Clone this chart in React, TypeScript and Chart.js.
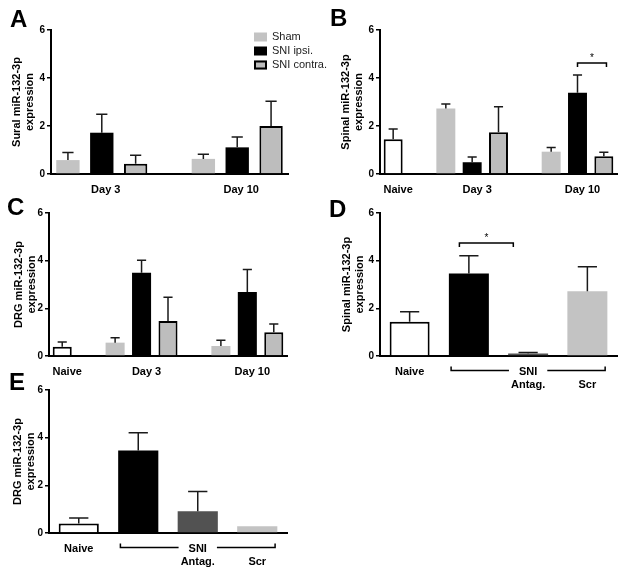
import React, { useEffect, useRef } from 'react';
import { Chart, registerables } from 'chart.js';

Chart.register(...registerables);

const FONT = '"Liberation Sans", Arial, Helvetica, sans-serif';

// ---------- colours ----------
const C_WHITE = '#ffffff';
const C_BLACK = '#000000';
const C_LIGHT = '#c3c3c3';
const C_CONTRA = '#bdbdbd';
const C_DARK = '#525252';

// ---------- Panel A : sural nerve ----------
const A_GROUPS = ['Day 3', 'Day 10'];
const A_SHAM = [0.58, 0.63];
const A_SHAM_SEM = [0.32, 0.19];
const A_IPSI = [1.72, 1.11];
const A_IPSI_SEM = [0.77, 0.43];
const A_CONTRA = [0.43, 2.0];
const A_CONTRA_SEM = [0.35, 1.03];

// ---------- Panel B : spinal cord time course ----------
const B_GROUPS = ['Day 3', 'Day 10'];
const B_NAIVE = 1.45;
const B_NAIVE_SEM = 0.43;
const B_SHAM = [2.73, 0.93];
const B_SHAM_SEM = [0.19, 0.17];
const B_IPSI = [0.49, 3.39];
const B_IPSI_SEM = [0.22, 0.74];
const B_CONTRA = [1.74, 0.74];
const B_CONTRA_SEM = [1.06, 0.17];

// ---------- Panel C : DRG time course ----------
const C_GROUPS = ['Day 3', 'Day 10'];
const C_NAIVE = 0.39;
const C_NAIVE_SEM = 0.2;
const C_SHAM = [0.56, 0.42];
const C_SHAM_SEM = [0.21, 0.24];
const C_IPSI = [3.49, 2.69];
const C_IPSI_SEM = [0.53, 0.94];
const C_CONTRA_V = [1.47, 1.0];
const C_CONTRA_SEM = [0.99, 0.34];

// ---------- Panels D / E : antagomir ----------
const DE_TICKS: (string | string[])[] = ['Naive', '', ['SNI', 'Antag.'], ['', 'Scr']];
const D_VALUES = [1.44, 3.46, 0.11, 2.72];
const D_SEM = [0.42, 0.75, 0.04, 1.02];
const E_VALUES = [0.4, 3.46, 0.91, 0.28];
const E_SEM = [0.23, 0.75, 0.83, 0.02];
const DE_BG = [C_WHITE, C_BLACK, C_DARK, C_LIGHT];
const DE_BORDER = [C_BLACK, C_BLACK, C_DARK, C_LIGHT];
const DE_BW = [2, 0, 0, 0];

type Series = {
  label: string;
  values: number[];
  sem: number[];
  bg: string;
  border: string;
  bw: number;
};

function seriesSet(sham: number[], shamSem: number[], ipsi: number[], ipsiSem: number[], contra: number[], contraSem: number[]): Series[] {
  return [
    { label: 'Sham', values: sham, sem: shamSem, bg: C_LIGHT, border: C_LIGHT, bw: 0 },
    { label: 'SNI ipsi.', values: ipsi, sem: ipsiSem, bg: C_BLACK, border: C_BLACK, bw: 0 },
    { label: 'SNI contra.', values: contra, sem: contraSem, bg: C_CONTRA, border: C_BLACK, bw: 2 },
  ];
}

function buildGrouped(naive: null | { v: number; e: number }, groups: string[], series: Series[]) {
  const labels: string[] = [];
  const slots: any[] = [];
  if (naive) {
    labels.push('Naive');
    slots.push({ naive: true });
    labels.push('');
    slots.push(null);
  }
  groups.forEach((g, gi) => {
    if (gi > 0) {
      labels.push('');
      slots.push(null);
    }
    series.forEach((_s, si) => {
      labels.push(si === Math.floor(series.length / 2) ? g : '');
      slots.push({ gi, si });
    });
  });
  const datasets: any[] = [];
  if (naive) {
    datasets.push({
      label: 'Naive',
      data: slots.map((s) => (s && s.naive ? naive.v : null)),
      sem: slots.map((s) => (s && s.naive ? naive.e : null)),
      backgroundColor: C_WHITE,
      borderColor: C_BLACK,
      borderWidth: 2,
      inLegend: false,
    });
  }
  series.forEach((s, si) => {
    datasets.push({
      label: s.label,
      data: slots.map((sl) => (sl && !sl.naive && sl.si === si ? s.values[sl.gi] : null)),
      sem: slots.map((sl) => (sl && !sl.naive && sl.si === si ? s.sem[sl.gi] : null)),
      backgroundColor: s.bg,
      borderColor: s.border,
      borderWidth: s.bw,
      inLegend: true,
    });
  });
  return { labels, datasets };
}

function buildSingle(values: number[], sem: number[]) {
  return {
    labels: DE_TICKS,
    datasets: [
      {
        label: 'miR-132-3p',
        data: values,
        sem,
        backgroundColor: DE_BG,
        borderColor: DE_BORDER,
        borderWidth: DE_BW,
      },
    ],
  };
}

type PanelCfg = {
  letter: string;
  letterX: number;
  letterY: number;
  left: number;
  top: number;
  w: number;
  h: number;
  yW: number;
  padR: number;
  padT: number;
  xH: number;
  titlePad: number;
  yTitle: string[];
  barPct: number;
  labelOffset: number;
  data: { labels: any[]; datasets: any[] };
  legend?: boolean;
  sig?: { from: number; to: number; value: number }[];
  sniBracket?: boolean;
};

const errorBarPlugin = {
  id: 'semBars',
  afterDatasetsDraw(chart: any) {
    const ctx = chart.ctx;
    const yScale = chart.scales.y;
    ctx.save();
    ctx.strokeStyle = '#1a1a1a';
    ctx.lineWidth = 1.5;
    chart.data.datasets.forEach((ds: any, di: number) => {
      const meta = chart.getDatasetMeta(di);
      meta.data.forEach((el: any, i: number) => {
        const v = ds.data[i];
        const e = ds.sem ? ds.sem[i] : null;
        if (v == null || e == null || e <= 0.03) return;
        const p = el.getProps(['x', 'y', 'width'], true);
        const yTop = yScale.getPixelForValue(v + e);
        const half = p.width * 0.24;
        ctx.beginPath();
        ctx.moveTo(p.x, p.y);
        ctx.lineTo(p.x, yTop);
        ctx.moveTo(p.x - half, yTop);
        ctx.lineTo(p.x + half, yTop);
        ctx.stroke();
      });
    });
    ctx.restore();
  },
};

function makeDecor(cfg: PanelCfg) {
  return {
    id: 'decor' + cfg.letter,
    afterDraw(chart: any) {
      const ctx = chart.ctx;
      const area = chart.chartArea;
      const xs = chart.scales.x;
      const ys = chart.scales.y;
      ctx.save();
      // panel letter
      ctx.fillStyle = '#000';
      ctx.font = `bold 24px ${FONT}`;
      ctx.textAlign = 'left';
      ctx.textBaseline = 'alphabetic';
      ctx.fillText(cfg.letter, cfg.letterX, cfg.letterY);

      // legend
      if (cfg.legend) {
        const items = chart.data.datasets.filter((d: any) => d.inLegend);
        const x0 = area.right - 34;
        let yRow = area.top + 7;
        ctx.font = `11px ${FONT}`;
        ctx.textBaseline = 'middle';
        items.forEach((d: any) => {
          ctx.fillStyle = d.backgroundColor;
          ctx.fillRect(x0, yRow - 4.5, 13, 9);
          if (d.borderWidth > 0) {
            ctx.strokeStyle = d.borderColor;
            ctx.lineWidth = d.borderWidth;
            ctx.strokeRect(x0 + 1, yRow - 3.5, 11, 7);
          }
          ctx.fillStyle = '#222';
          ctx.fillText(d.label, x0 + 18, yRow);
          yRow += 14;
        });
      }

      // significance brackets
      (cfg.sig || []).forEach((s) => {
        const x1 = xs.getPixelForValue(s.from);
        const x2 = xs.getPixelForValue(s.to);
        const y = ys.getPixelForValue(s.value);
        ctx.strokeStyle = '#000';
        ctx.lineWidth = 1.5;
        ctx.beginPath();
        ctx.moveTo(x1, y + 4);
        ctx.lineTo(x1, y);
        ctx.lineTo(x2, y);
        ctx.lineTo(x2, y + 4);
        ctx.stroke();
        ctx.fillStyle = '#000';
        ctx.font = `10px ${FONT}`;
        ctx.textAlign = 'center';
        ctx.textBaseline = 'middle';
        ctx.fillText('*', (x1 + x2) / 2, y - 5);
      });

      // SNI bracket under the x axis
      if (cfg.sniBracket) {
        const lh = 11 * 1.2;
        const y = xs.top + 9 + lh / 2 - 1;
        const xc = xs.getPixelForTick(2);
        ctx.font = `bold 11px ${FONT}`;
        const gap = ctx.measureText('SNI').width / 2 + 10;
        const x1 = xs.getPixelForValue(0.7);
        const x2 = xs.getPixelForValue(3.3);
        ctx.strokeStyle = '#000';
        ctx.lineWidth = 1.5;
        ctx.beginPath();
        ctx.moveTo(x1, y - 4);
        ctx.lineTo(x1, y);
        ctx.lineTo(xc - gap, y);
        ctx.moveTo(xc + gap, y);
        ctx.lineTo(x2, y);
        ctx.lineTo(x2, y - 4);
        ctx.stroke();
      }
      ctx.restore();
    },
  };
}

function buildConfig(p: PanelCfg): any {
  return {
    type: 'bar',
    data: p.data,
    options: {
      responsive: false,
      animation: false,
      events: [],
      layout: { padding: { left: 0, right: p.padR, top: p.padT, bottom: 0 } },
      datasets: { bar: { grouped: false, categoryPercentage: 1, barPercentage: p.barPct } },
      plugins: { legend: { display: false }, tooltip: { enabled: false } },
      scales: {
        x: {
          type: 'category',
          offset: true,
          grid: { display: false, drawTicks: false },
          border: { display: true, color: '#000', width: 2 },
          ticks: {
            autoSkip: false,
            maxRotation: 0,
            minRotation: 0,
            padding: 9,
            labelOffset: p.labelOffset,
            color: '#000',
            font: { family: FONT, size: 11, weight: 'bold' },
          },
          afterFit: (s: any) => {
            s.height = p.xH;
          },
        },
        y: {
          min: 0,
          max: 6,
          ticks: { stepSize: 2, padding: 2, color: '#000', font: { family: FONT, size: 10, weight: 'bold' } },
          grid: { drawOnChartArea: false, drawTicks: true, tickLength: 4, color: '#000', lineWidth: 1.5 },
          border: { display: true, color: '#000', width: 2 },
          title: {
            display: true,
            text: p.yTitle,
            color: '#000',
            font: { family: FONT, size: 11, weight: 'bold' },
            padding: { top: p.titlePad, bottom: 0 },
          },
          afterFit: (s: any) => {
            s.width = p.yW;
          },
        },
      },
    },
    plugins: [errorBarPlugin, makeDecor(p)],
  };
}

const PANELS: PanelCfg[] = [
  {
    letter: 'A', letterX: 10, letterY: 27,
    left: 0, top: 0, w: 330, h: 200, yW: 51, padR: 42, padT: 30, xH: 26, titlePad: 10,
    yTitle: ['Sural miR-132-3p', 'expression'], barPct: 0.69, labelOffset: 4,
    data: buildGrouped(null, A_GROUPS, seriesSet(A_SHAM, A_SHAM_SEM, A_IPSI, A_IPSI_SEM, A_CONTRA, A_CONTRA_SEM)),
    legend: true,
  },
  {
    letter: 'B', letterX: 18, letterY: 26,
    left: 312, top: 0, w: 312, h: 200, yW: 68, padR: 7, padT: 30, xH: 26, titlePad: 27,
    yTitle: ['Spinal miR-132-3p', 'expression'], barPct: 0.72, labelOffset: 5,
    data: buildGrouped({ v: B_NAIVE, e: B_NAIVE_SEM }, B_GROUPS, seriesSet(B_SHAM, B_SHAM_SEM, B_IPSI, B_IPSI_SEM, B_CONTRA, B_CONTRA_SEM)),
    sig: [{ from: 7, to: 8.1, value: 4.62 }],
  },
  {
    letter: 'C', letterX: 7, letterY: 20,
    left: 0, top: 195, w: 312, h: 200, yW: 49, padR: 25, padT: 18, xH: 39, titlePad: 12,
    yTitle: ['DRG miR-132-3p', 'expression'], barPct: 0.72, labelOffset: 5,
    data: buildGrouped({ v: C_NAIVE, e: C_NAIVE_SEM }, C_GROUPS, seriesSet(C_SHAM, C_SHAM_SEM, C_IPSI, C_IPSI_SEM, C_CONTRA_V, C_CONTRA_SEM)),
  },
  {
    letter: 'D', letterX: 17, letterY: 22,
    left: 312, top: 195, w: 312, h: 200, yW: 68, padR: 7, padT: 18, xH: 39, titlePad: 28,
    yTitle: ['Spinal miR-132-3p', 'expression'], barPct: 0.675, labelOffset: 0,
    data: buildSingle(D_VALUES, D_SEM),
    sig: [{ from: 0.84, to: 1.75, value: 4.74 }],
    sniBracket: true,
  },
  {
    letter: 'E', letterX: 9, letterY: 20,
    left: 0, top: 370, w: 312, h: 204, yW: 49, padR: 25, padT: 20, xH: 41, titlePad: 11,
    yTitle: ['DRG miR-132-3p', 'expression'], barPct: 0.675, labelOffset: 0,
    data: buildSingle(E_VALUES, E_SEM),
    sniBracket: true,
  },
];

function Panel({ cfg }: { cfg: PanelCfg }) {
  const ref = useRef<HTMLCanvasElement>(null);
  useEffect(() => {
    if (!ref.current) return;
    const chart = new Chart(ref.current, buildConfig(cfg));
    return () => chart.destroy();
  }, [cfg]);
  return (
    <canvas
      ref={ref}
      width={cfg.w}
      height={cfg.h}
      style={{ position: 'absolute', left: cfg.left, top: cfg.top, width: cfg.w, height: cfg.h }}
    />
  );
}

export default function App() {
  return (
    <div style={{ position: 'fixed', left: 0, top: 0, width: 624, height: 574, background: '#fff', overflow: 'hidden' }}>
      {PANELS.map((p) => (
        <Panel key={p.letter} cfg={p} />
      ))}
    </div>
  );
}
